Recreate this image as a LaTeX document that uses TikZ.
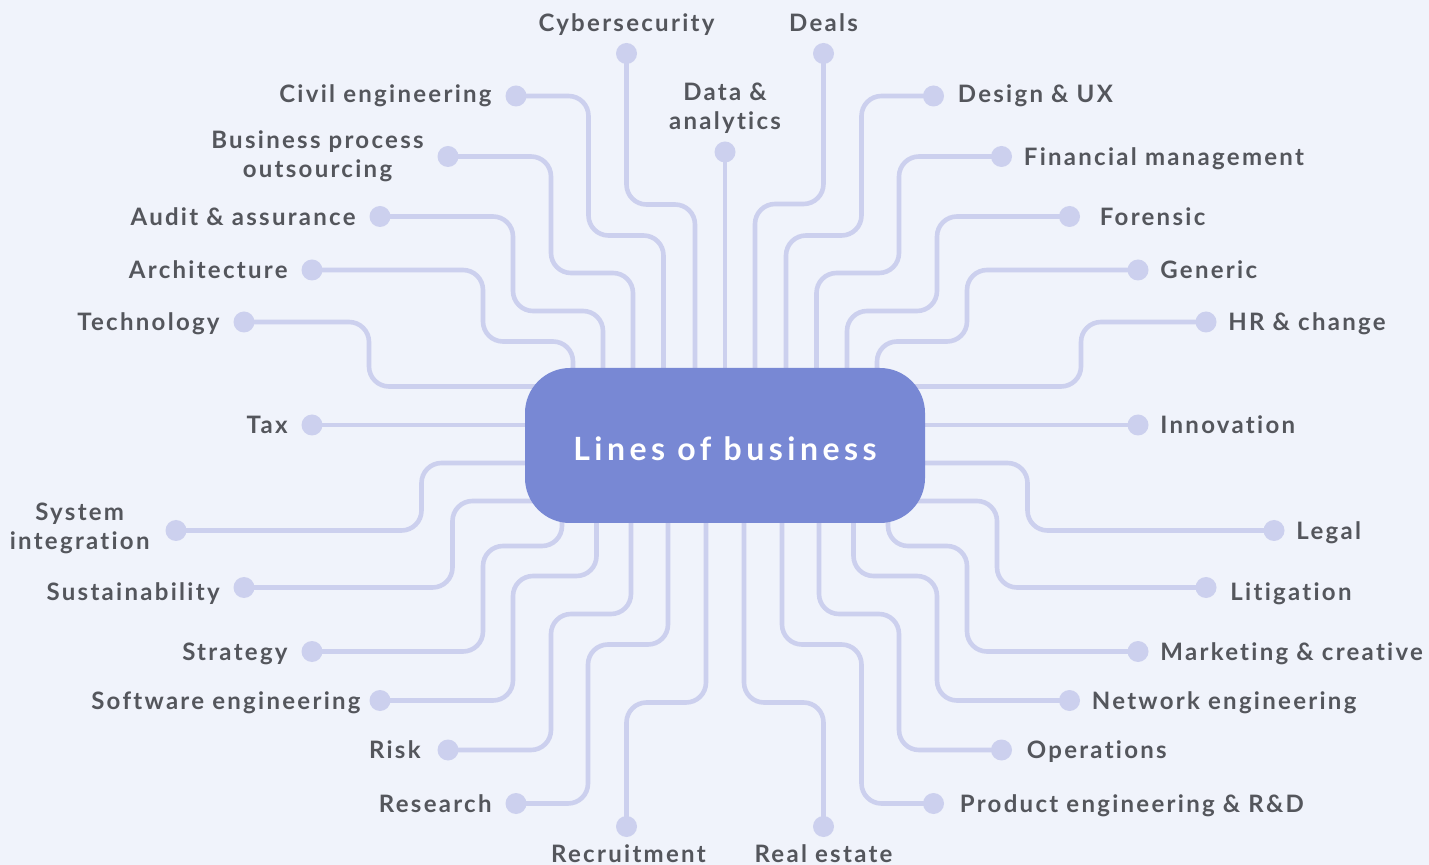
\documentclass[tikz,border=0pt]{standalone}
\usepackage{fontspec}
\setmainfont{Lato}
\newfontfamily\labfont{Lato}[LetterSpace=9.5,Ligatures=NoCommon]
\newfontfamily\ctrfont{Lato}[LetterSpace=14,Ligatures=NoCommon]
\definecolor{bgc}{RGB}{240,243,251}
\definecolor{linec}{RGB}{204,208,238}
\definecolor{boxc}{RGB}{120,136,212}
\definecolor{txtc}{RGB}{84,86,92}
\pgfdeclarelayer{bglayer}
\pgfdeclarelayer{linelayer}
\pgfsetlayers{bglayer,linelayer,main}
\newcommand\leftlab[4][0pt]{\node[lab,anchor=base east] (#2) at ([xshift=-12pt+#1,yshift=-4.3pt]#3.center) {#4};}
\newcommand\rightlab[4][0pt]{\node[lab,anchor=base west] (#2) at ([xshift=11pt+#1,yshift=-4.3pt]#3.center) {#4};}
\begin{document}
\begin{tikzpicture}[x=0.5pt,y=-0.5pt,
  link/.style={draw=linec, line width=2.3pt, rounded corners=10pt},
  dotn/.style={circle, fill=linec, minimum size=10.5pt, inner sep=0pt},
  lab/.style={text=txtc, inner sep=0pt, font=\fontsize{12}{14.5}\labfont\bfseries},
  hub/.style={fill=boxc, rounded corners=22.5pt, minimum width=200pt, minimum height=77.5pt, inner sep=0pt, text=white, font=\fontsize{16}{19}\ctrfont\bfseries}]
\begin{pgfonlayer}{bglayer}
\fill[bgc] (0,0) rectangle (1429,865);
\end{pgfonlayer}
\useasboundingbox (0,0) rectangle (1429,865);

\node[hub] (box) at (725,445.5) {\raisebox{-1.6pt}[\height][0pt]{Lines of business}};

% dots
\node[dotn] (tech) at (244,322) {};
\node[dotn] (arch) at (312,270) {};
\node[dotn] (audit) at (380,216.5) {};
\node[dotn] (bpo) at (448,156.5) {};
\node[dotn] (civil) at (516,96) {};
\node[dotn] (cyber) at (626.5,53.5) {};
\node[dotn] (data) at (725,152) {};
\node[dotn] (deals) at (823.5,53.5) {};
\node[dotn] (design) at (933.5,96) {};
\node[dotn] (fin) at (1001.5,156.5) {};
\node[dotn] (foren) at (1069.5,216.5) {};
\node[dotn] (gen) at (1138,270) {};
\node[dotn] (hr) at (1206,322) {};
\node[dotn] (tax) at (312,425) {};
\node[dotn] (innov) at (1138,425) {};
\node[dotn] (sysint) at (176,530.5) {};
\node[dotn] (sust) at (244,587.5) {};
\node[dotn] (strat) at (312,651.5) {};
\node[dotn] (soft) at (380,700.5) {};
\node[dotn] (risk) at (448,750) {};
\node[dotn] (res) at (516,803.5) {};
\node[dotn] (recr) at (626.5,826.5) {};
\node[dotn] (real) at (823.5,826.5) {};
\node[dotn] (prod) at (933.5,803.5) {};
\node[dotn] (oper) at (1001.5,750) {};
\node[dotn] (netw) at (1069.5,700.5) {};
\node[dotn] (mark) at (1138,651.5) {};
\node[dotn] (litig) at (1206,587.5) {};
\node[dotn] (legal) at (1274,530.5) {};

\begin{pgfonlayer}{linelayer}
\draw[link] (tech.center) -- (369,322) -- (369,386.5) -- ([yshift=29.5pt]box.center);
\draw[link] (arch.center) -- (483,270) -- (483,341.5) -- (573,341.5) -- ([xshift=-76pt]box.center);
\draw[link] (audit.center) -- (513,216.5) -- (513,311) -- (603,311) -- ([xshift=-61pt]box.center);
\draw[link] (bpo.center) -- (551,156.5) -- (551,273) -- (633,273) -- ([xshift=-46pt]box.center);
\draw[link] (civil.center) -- (588.5,96) -- (588.5,235.5) -- (663.5,235.5) -- ([xshift=-30.75pt]box.center);
\draw[link] (cyber.center) -- (626.5,204.5) -- (695,204.5) -- ([xshift=-15pt]box.center);
\draw[link] (data.center) -- (box.center);
\draw[link] (deals.center) -- (823.5,204) -- (755,204) -- ([xshift=15pt]box.center);
\draw[link] (design.center) -- (861.5,96) -- (861.5,235.5) -- (786,235.5) -- ([xshift=30.5pt]box.center);
\draw[link] (fin.center) -- (899,156.5) -- (899,273) -- (816.5,273) -- ([xshift=45.75pt]box.center);
\draw[link] (foren.center) -- (937,216.5) -- (937,311) -- (847,311) -- ([xshift=61pt]box.center);
\draw[link] (gen.center) -- (967,270) -- (967,341.5) -- (877,341.5) -- ([xshift=76pt]box.center);
\draw[link] (hr.center) -- (1081,322) -- (1081,386.5) -- ([yshift=29.5pt]box.center);
\draw[link] (tax.center) -- ([yshift=10.25pt]box.center);
\draw[link] (innov.center) -- ([yshift=10.25pt]box.center);
\draw[link] (sysint.center) -- (421.5,530.5) -- (421.5,463) -- ([yshift=-8.75pt]box.center);
\draw[link] (sust.center) -- (452.5,587.5) -- (452.5,501) -- ([yshift=-27.75pt]box.center);
\draw[link] (strat.center) -- (483,651.5) -- (483,546) -- (562,546) -- ([xshift=-81.5pt]box.center);
\draw[link] (soft.center) -- (513,700.5) -- (513,576) -- (596.5,576) -- ([xshift=-64.25pt]box.center);
\draw[link] (risk.center) -- (551,750) -- (551,614) -- (631,614) -- ([xshift=-47pt]box.center);
\draw[link] (res.center) -- (588,803.5) -- (588,644.5) -- (668,644.5) -- ([xshift=-28.5pt]box.center);
\draw[link] (recr.center) -- (626.5,702.5) -- (706,702.5) -- ([xshift=-9.5pt]box.center);
\draw[link] (real.center) -- (823.5,702.5) -- (744,702.5) -- ([xshift=9.5pt]box.center);
\draw[link] (prod.center) -- (861.5,803.5) -- (861.5,644.5) -- (782,644.5) -- ([xshift=28.5pt]box.center);
\draw[link] (oper.center) -- (899,750) -- (899,614) -- (819,614) -- ([xshift=47pt]box.center);
\draw[link] (netw.center) -- (937,700.5) -- (937,576) -- (853.5,576) -- ([xshift=64.25pt]box.center);
\draw[link] (mark.center) -- (967,651.5) -- (967,546) -- (888,546) -- ([xshift=81.5pt]box.center);
\draw[link] (litig.center) -- (997,587.5) -- (997,501) -- ([yshift=-27.75pt]box.center);
\draw[link] (legal.center) -- (1027.5,530.5) -- (1027.5,463) -- ([yshift=-8.75pt]box.center);
\end{pgfonlayer}

% labels left
\leftlab{l-tech}{tech}{Technology}
\leftlab{l-arch}{arch}{Architecture}
\leftlab{l-audit}{audit}{Audit \& assurance}
\node[lab,anchor=base east] (l-civil) at ([xshift=-12pt,yshift=-3.1pt]civil.center) {Civil engineering};
\leftlab{l-tax}{tax}{Tax}
\node[lab,anchor=base east] (l-sust) at ([xshift=-12pt,yshift=-6.3pt]sust.center) {Sustainability};
\leftlab{l-strat}{strat}{Strategy}
\leftlab[2.5pt]{l-soft}{soft}{Software engineering}
\leftlab[-1.5pt]{l-risk}{risk}{Risk}
\leftlab{l-res}{res}{Research}
\node[lab,anchor=base east] (l-bpo) at ([xshift=-12pt,yshift=3.9pt]bpo.center) {\begin{tabular}[t]{@{}c@{}}Business process\\outsourcing\end{tabular}};
\node[lab,anchor=base east] (l-sysint) at ([xshift=-13pt,yshift=5.1pt]sysint.center) {\begin{tabular}[t]{@{}c@{}}System\\integration\end{tabular}};
% labels right
\node[lab,anchor=base west] (l-design) at ([xshift=12pt,yshift=-3.1pt]design.center) {Design \& UX};
\rightlab{l-fin}{fin}{Financial management}
\node[lab,anchor=base west] (l-foren) at ([xshift=15pt,yshift=-4.3pt]foren.center) {Forensic};
\rightlab{l-gen}{gen}{Generic}
\rightlab{l-hr}{hr}{HR \& change}
\rightlab{l-innov}{innov}{Innovation}
\rightlab{l-legal}{legal}{Legal}
\node[lab,anchor=base west] (l-litig) at ([xshift=12pt,yshift=-6.3pt]litig.center) {Litigation};
\rightlab{l-mark}{mark}{Marketing \& creative}
\rightlab{l-netw}{netw}{Network engineering}
\rightlab[1.5pt]{l-oper}{oper}{Operations}
\rightlab[2pt]{l-prod}{prod}{Product engineering \& R\&D}
% labels top / bottom
\node[lab,anchor=base] (l-cyber) at ([yshift=10.75pt]cyber.center) {Cybersecurity};
\node[lab,anchor=base] (l-deals) at ([yshift=10.75pt]deals.center) {Deals};
\node[lab,anchor=base] (l-data) at ([yshift=25.5pt]data.center) {\begin{tabular}[t]{@{}c@{}}Data \&\\analytics\end{tabular}};
\node[lab,anchor=base] (l-recr) at ([xshift=1pt,yshift=-17.75pt]recr.center) {Recruitment};
\node[lab,anchor=base] (l-real) at ([yshift=-17.75pt]real.center) {Real estate};
\end{tikzpicture}
\end{document}
